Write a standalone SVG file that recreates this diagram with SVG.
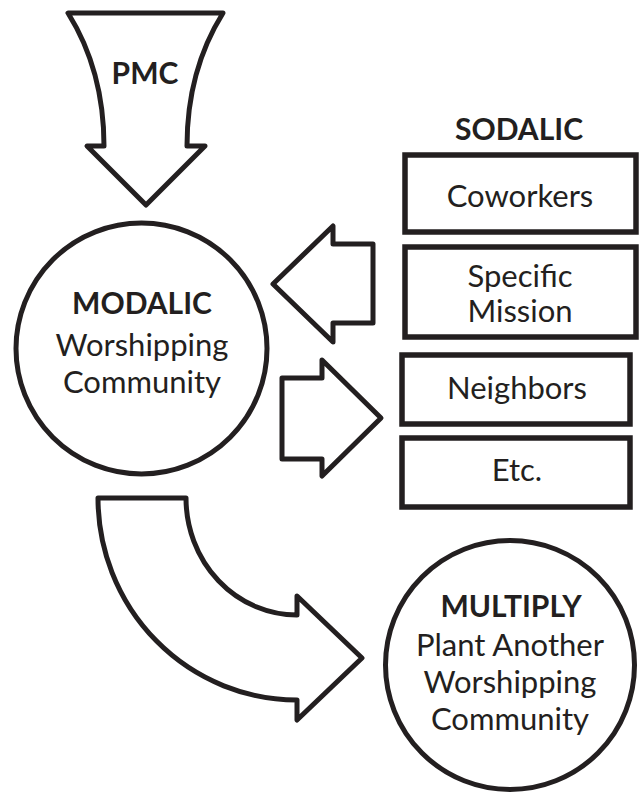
<svg xmlns="http://www.w3.org/2000/svg" width="639" height="793" viewBox="0 0 639 793">
<style>
.shape{fill:#fff;stroke:#231f20;stroke-width:5;stroke-linejoin:round}
.box{fill:#fff;stroke:#231f20;stroke-width:5.5}
.t{font-family:"Lato","Noto Sans",sans-serif;font-size:31px;fill:#231f20;text-anchor:middle}
.b{font-weight:bold;font-size:30px}
</style>
<rect width="639" height="793" fill="#fff"/>
<g id="connectors">
<path id="pmc-arrow" class="shape" d="M68,13 L223,13 C203,45 187,90 187,146 L205,146 L146,205 L87,146 L104,146 C104,90 88,45 68,13 Z"/>
<path id="arrow-left" class="shape" d="M273,284 L333,226 L333,244 L373,244 L373,323 L333,323 L333,342 Z"/>
<path id="arrow-right" class="shape" d="M282,378 L322,378 L322,360 L381,418 L322,476 L322,459 L282,459 Z"/>
<path id="arrow-curve" class="shape" d="M98,498 L186,498 A111,117 0 0 0 297,615 L297,596 L362,658 L297,720 L297,700 A199,202 0 0 1 98,498 Z"/>
</g>
<g id="pmc"><text class="t b" x="145" y="84">PMC</text></g>
<g id="modalic">
<circle class="shape" cx="141.5" cy="348.5" r="125.5"/>
<text class="t b" x="142" y="314">MODALIC</text>
<text class="t" x="142" y="356">Worshipping</text>
<text class="t" x="142" y="393">Community</text>
</g>
<g id="sodalic-label"><text class="t b" x="519" y="140">SODALIC</text></g>
<g id="coworkers"><rect class="box" x="405" y="155" width="231" height="77"/><text class="t" x="520" y="207">Coworkers</text></g>
<g id="specific-mission"><rect class="box" x="405" y="247" width="231" height="90"/><text class="t" x="520" y="287">Specific</text><text class="t" x="520" y="322">Mission</text></g>
<g id="neighbors"><rect class="box" x="402" y="355" width="228" height="69"/><text class="t" x="517" y="399">Neighbors</text></g>
<g id="etc"><rect class="box" x="402" y="438" width="228" height="69"/><text class="t" x="517" y="481">Etc.</text></g>
<g id="multiply">
<circle class="shape" cx="510" cy="665" r="124.5"/>
<text class="t b" x="511" y="617">MULTIPLY</text>
<text class="t" x="510" y="656">Plant Another</text>
<text class="t" x="510" y="693">Worshipping</text>
<text class="t" x="510" y="730">Community</text>
</g>
</svg>
